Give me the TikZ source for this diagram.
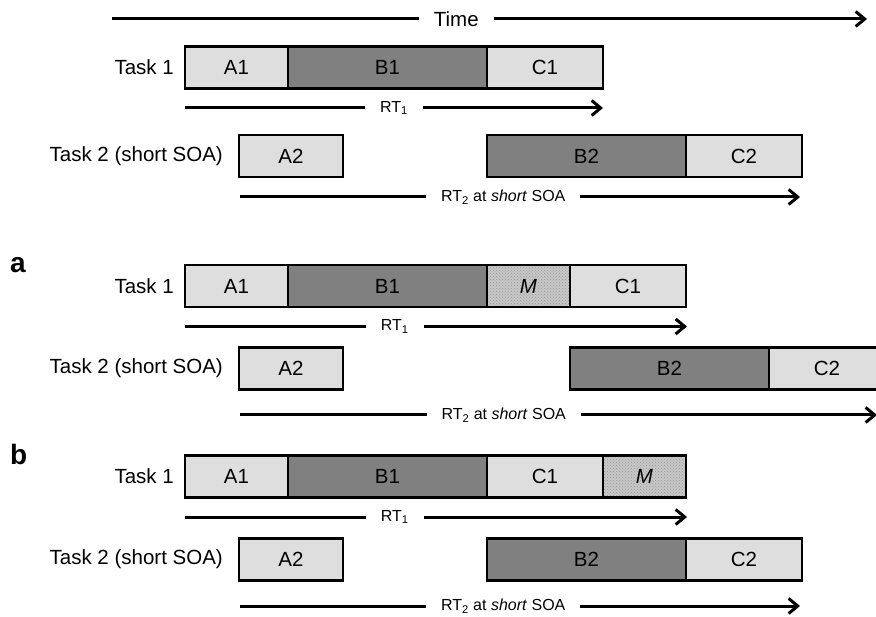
\documentclass[tikz,border=0pt]{standalone}
\usepackage{fontspec}
\setmainfont{Liberation Sans}
\usetikzlibrary{positioning}
\usetikzlibrary{arrows.meta}
\usetikzlibrary{patterns}
\definecolor{lightbox}{gray}{0.87}
\definecolor{darkbox}{gray}{0.5}
\definecolor{mbox}{gray}{0.78}

\begin{document}
\begin{tikzpicture}[x=1pt,y=-1pt,
  stage/.style={draw,line width=2.5pt,minimum height=42pt,outer sep=0pt,inner sep=0pt,font=\fontsize{20.5}{24}\selectfont},
  lite/.style={stage,fill=lightbox},
  dark/.style={stage,fill=darkbox},
  mask/.style={stage,preaction={fill=mbox},pattern=crosshatch dots,pattern color=gray!80,font=\fontsize{20.5}{24}\selectfont\itshape},
  tasklabel/.style={inner sep=0pt,font=\fontsize{20.5}{24}\selectfont},
  panel/.style={inner sep=0pt,anchor=base west,font=\fontsize{28}{32}\selectfont\bfseries},
  rt/.style={line width=3pt,-{Straight Barb[length=9pt,width=15pt]}},
  rtlabel/.style={fill=white,inner xsep=15pt,inner ysep=2pt,font=\fontsize{16}{19}\selectfont}]
  \useasboundingbox (0,0) rectangle (876,617);
  \clip (0,0) rectangle (876,617);

  % time axis
  \coordinate (t0) at (112,19);
  \coordinate (t1) at (867,19);
  \draw[rt] (t0) -- (t1) node[rtlabel,pos=0.456,font=\fontsize{20.5}{24}\selectfont] (time) {Time};

  % top: standard PRP
  \node[lite,minimum width=103pt,anchor=west] (tA1) at (185,67.5) {A1};
  \node[dark,minimum width=199pt,right=0pt of tA1] (tB1) {B1};
  \node[lite,minimum width=116pt,right=0pt of tB1] (tC1) {C1};
  \node[tasklabel,left=11pt of tA1] (tT1) {Task 1};
  \node[lite,minimum width=104pt,anchor=west] (tA2) at (239,156) {A2};
  \node[dark,minimum width=199pt,anchor=west] (tB2) at (tC1.west |- tA2) {B2};
  \node[lite,minimum width=116pt,right=0pt of tB2] (tC2) {C2};
  \node[tasklabel,left=16pt of tA2] (tT2) {Task 2 (short SOA)};
  \coordinate (tR1s) at (185,108);
  \coordinate (tR1e) at (603,108);
  \draw[rt] (tR1s) -- (tR1e) node[rtlabel,midway] (tR1) {RT\textsubscript{1}};
  \coordinate (tR2s) at (240,197);
  \coordinate (tR2e) at (800,197);
  \draw[rt] (tR2s) -- (tR2e) node[rtlabel,pos=0.47] (tR2) {RT\textsubscript{2} at \textit{short} SOA};

  % panel a: M before C1
  \node[panel] (pa) at (10,273) {a};
  \node[lite,minimum width=103pt,anchor=west] (aA1) at (185,286) {A1};
  \node[dark,minimum width=199pt,right=0pt of aA1] (aB1) {B1};
  \node[mask,minimum width=83pt,right=0pt of aB1] (aM) {M};
  \node[lite,minimum width=116pt,right=0pt of aM] (aC1) {C1};
  \node[tasklabel,left=11pt of aA1] (aT1) {Task 1};
  \node[lite,minimum width=104pt,anchor=west] (aA2) at (239,368.5) {A2};
  \node[dark,minimum width=199pt,anchor=west] (aB2) at (aC1.west |- aA2) {B2};
  \node[lite,minimum width=116pt,right=0pt of aB2] (aC2) {C2};
  \node[tasklabel,left=16pt of aA2] (aT2) {Task 2 (short SOA)};
  \coordinate (aR1s) at (185,326.5);
  \coordinate (aR1e) at (687,326.5);
  \draw[rt] (aR1s) -- (aR1e) node[rtlabel,pos=0.418] (aR1) {RT\textsubscript{1}};
  \coordinate (aR2s) at (240,415);
  \coordinate (aR2e) at (877,415);
  \draw[rt] (aR2s) -- (aR2e) node[rtlabel,pos=0.414] (aR2) {RT\textsubscript{2} at \textit{short} SOA};

  % panel b: M after C1
  \node[panel] (pb) at (10,465) {b};
  \node[lite,minimum width=103pt,anchor=west] (bA1) at (185,476.5) {A1};
  \node[dark,minimum width=199pt,right=0pt of bA1] (bB1) {B1};
  \node[lite,minimum width=116pt,right=0pt of bB1] (bC1) {C1};
  \node[mask,minimum width=83pt,right=0pt of bC1] (bM) {M};
  \node[tasklabel,left=11pt of bA1] (bT1) {Task 1};
  \node[lite,minimum width=104pt,anchor=west] (bA2) at (239,559.5) {A2};
  \node[dark,minimum width=199pt,anchor=west] (bB2) at (bC1.west |- bA2) {B2};
  \node[lite,minimum width=116pt,right=0pt of bB2] (bC2) {C2};
  \node[tasklabel,left=16pt of bA2] (bT2) {Task 2 (short SOA)};
  \coordinate (bR1s) at (185,517);
  \coordinate (bR1e) at (687,517);
  \draw[rt] (bR1s) -- (bR1e) node[rtlabel,pos=0.418] (bR1) {RT\textsubscript{1}};
  \coordinate (bR2s) at (240,606);
  \coordinate (bR2e) at (800,606);
  \draw[rt] (bR2s) -- (bR2e) node[rtlabel,pos=0.47] (bR2) {RT\textsubscript{2} at \textit{short} SOA};
\end{tikzpicture}
\end{document}
